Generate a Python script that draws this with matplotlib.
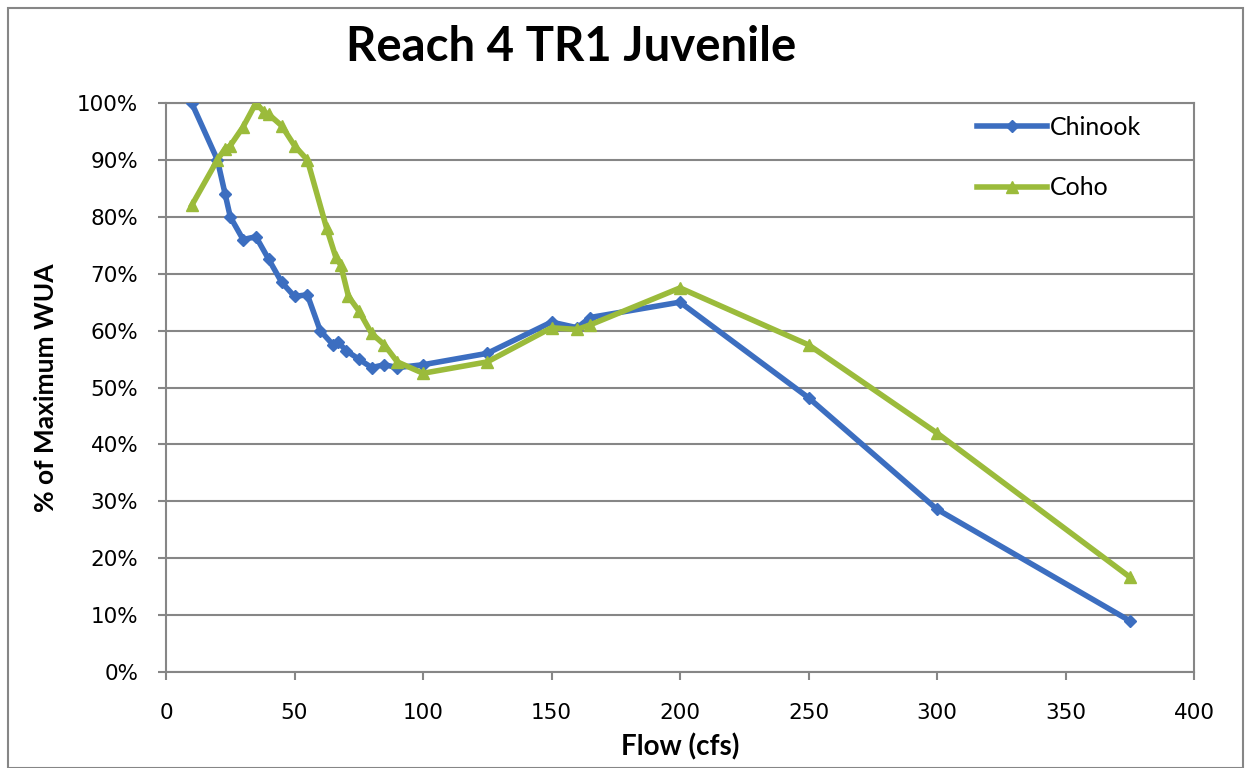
import numpy as np
import matplotlib
matplotlib.use("Agg")
import matplotlib.pyplot as plt
from matplotlib.patches import Rectangle
from matplotlib.ticker import PercentFormatter

# data
chinook_flow = [10, 20, 23, 25, 30, 35, 40, 45, 50, 55, 60, 65, 67, 70, 75, 80,
                85, 90, 100, 125, 150, 160, 165, 200, 250, 300, 375]
chinook_pct = [100, 90, 84, 80, 76, 76.5, 72.5, 68.5, 66, 66.3, 60, 57.5, 58,
               56.5, 55, 53.5, 54, 53.5, 54, 56, 61.5, 60.5, 62.3, 65, 48.2, 28.6, 9]

coho_flow = [10, 20, 23, 25, 30, 35, 38, 40, 45, 50, 55, 62.5, 66, 68, 71, 75, 80,
             85, 90, 100, 125, 150, 160, 165, 200, 250, 300, 375]
coho_pct = [82, 90, 92, 92.5, 95.8, 100, 98.5, 98, 96, 92.5, 90, 78, 73, 71.5,
            66, 63.5, 59.5, 57.5, 54.5, 52.5, 54.5, 60.5, 60.2, 61, 67.5, 57.5, 42, 16.7]

title = "Reach 4 TR1 Juvenile"
x_label = "Flow (cfs)"
y_label = "% of Maximum WUA"

BLUE = "#3C6EC0"
GREEN = "#9BBB3B"
GRAY = "#868686"

fig = plt.figure(figsize=(12.51, 7.68), dpi=100)
ax = fig.add_axes([166/1251, 96/768, (1194-166)/1251, (672-103)/768])

ax.plot(chinook_flow, chinook_pct, color=BLUE, lw=4, marker="D", ms=6.5,
        label="Chinook", zorder=3)
ax.plot(coho_flow, coho_pct, color=GREEN, lw=4, marker="^", ms=8,
        label="Coho", zorder=4)

ax.set_xlim(0, 400)
ax.set_ylim(0, 100)
ax.set_xticks(np.arange(0, 401, 50))
ax.set_yticks(np.arange(0, 101, 10))
ax.yaxis.set_major_formatter(PercentFormatter(decimals=0))
ax.grid(axis="y", color=GRAY, lw=1.5)
ax.set_axisbelow(True)
for s in ax.spines.values():
    s.set_color(GRAY)
    s.set_linewidth(1.5)
ax.tick_params(axis="both", direction="out", length=6, width=1.5, color=GRAY,
               labelsize=15.5)
ax.tick_params(axis="y", pad=14)
ax.tick_params(axis="x", pad=16)

ax.set_xlabel(x_label, fontsize=20, fontweight="bold", family="Lato", labelpad=8)
ax.set_ylabel(y_label, fontsize=19, fontweight="bold", family="Lato", labelpad=14)

fig.text(571/1251, 1 - 47/768, title, fontsize=34, fontweight="bold",
         family="Lato", ha="center", va="center")

ax.legend(loc="upper left", bbox_to_anchor=(0.767, 1.017), frameon=False,
          labelspacing=1.5, handlelength=2.8, handletextpad=0.1,
          prop={"family": "Lato", "size": 18})

fig.patches.append(Rectangle((8/1251, 0), 1 - 16/1251, 1 - 8/768,
                             transform=fig.transFigure, fill=False,
                             edgecolor=GRAY, lw=1.5))

fig.savefig("out.png", dpi=100)
